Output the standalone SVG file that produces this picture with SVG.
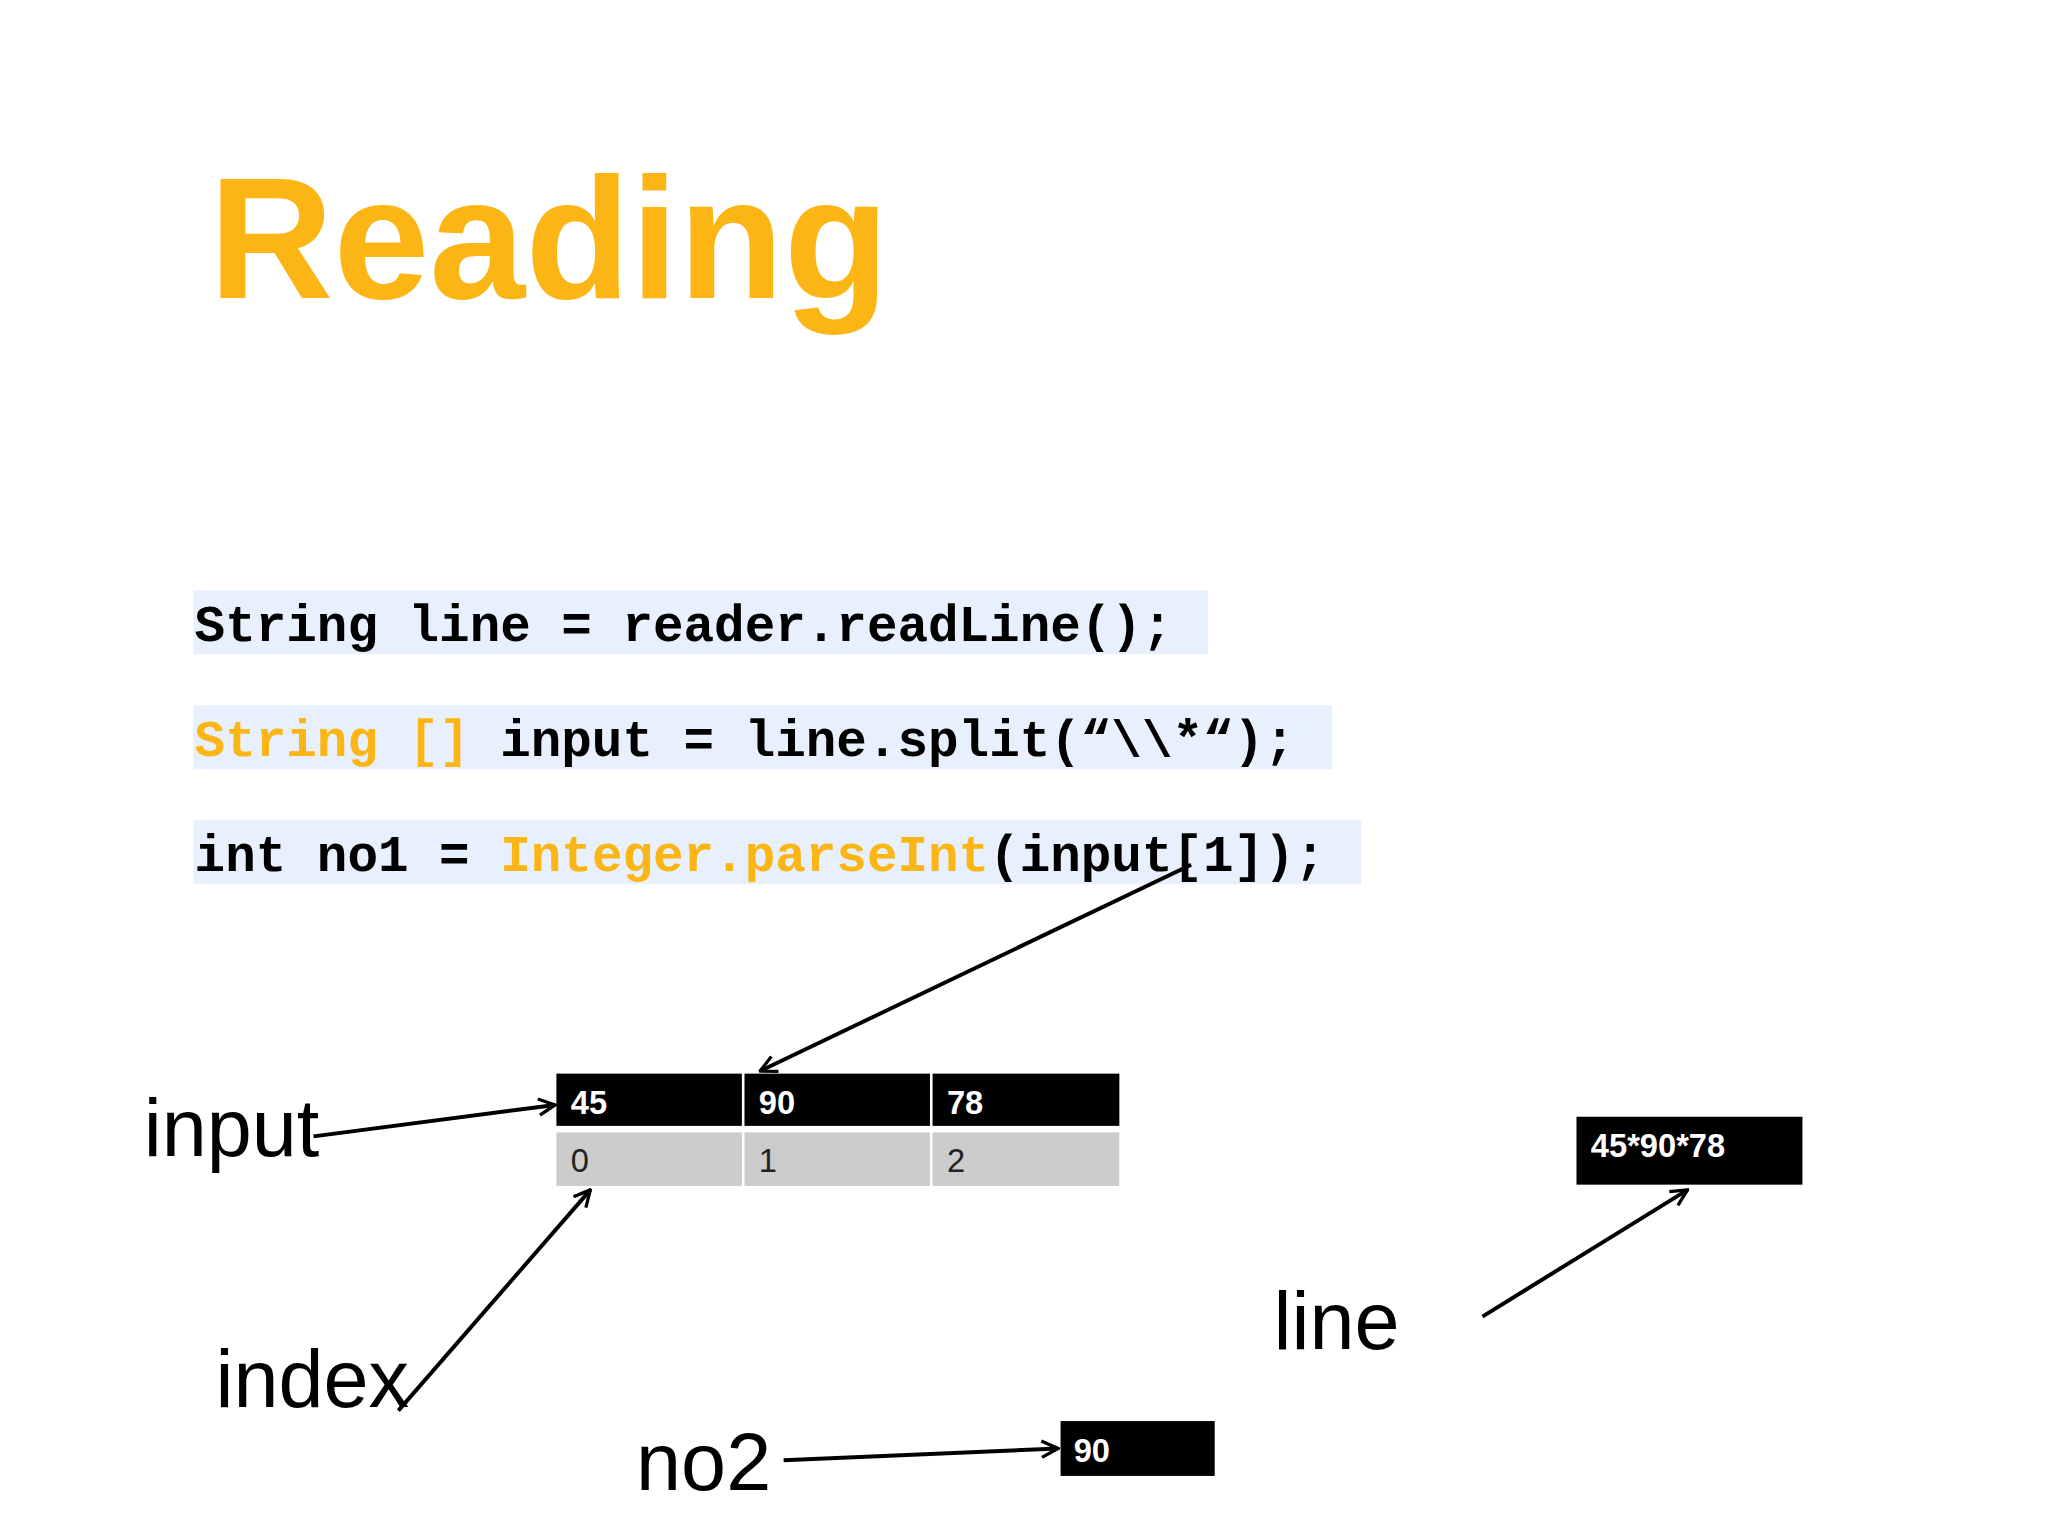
<svg xmlns="http://www.w3.org/2000/svg" width="2048" height="1536" viewBox="0 0 2048 1536">
<style>
.code{font-family:"Liberation Mono",monospace;font-weight:bold;font-size:39px;fill:#000}
.or{fill:#FBB515}
.lbl{font-family:"Liberation Sans",Arial,sans-serif;font-size:62px;fill:#000}
.cell{font-family:"Liberation Sans",Arial,sans-serif;font-weight:bold;font-size:25px;fill:#fff}
.idx{font-family:"Liberation Sans",Arial,sans-serif;font-size:25px;fill:#222}
.bg{fill:#E8F0FD}
.conn line{stroke:#000;stroke-width:3;marker-end:url(#ah)}
</style>
<defs>
<marker id="ah" viewBox="0 0 12 12" refX="11" refY="6" markerWidth="5" markerHeight="5" orient="auto" markerUnits="strokeWidth">
<path d="M1,1 L11,6 L1,11" fill="none" stroke="#000" stroke-width="2"/>
</marker>
</defs>
<rect width="2048" height="1536" fill="#fff"/>
<g transform="scale(1.30612)">
<g id="title"><text x="160" y="228" font-family="Liberation Sans,Arial,sans-serif" font-weight="bold" font-size="132" fill="#FBB515">Reading</text></g>
<g id="code1"><rect class="bg" x="148" y="452" width="777" height="49"/><text class="code" x="149" y="491" xml:space="preserve">String line = reader.readLine();</text></g>
<g id="code2"><rect class="bg" x="148" y="540" width="872" height="49"/><text class="code" x="149" y="579" xml:space="preserve"><tspan class="or">String []</tspan> input = line.split(“\\*“);</text></g>
<g id="code3"><rect class="bg" x="148" y="628" width="894" height="49"/><text class="code" x="149" y="667" xml:space="preserve">int no1 = <tspan class="or">Integer.parseInt</tspan>(input[1]);</text></g>
<g id="array">
<rect x="426" y="822" width="142" height="40" fill="#000"/><rect x="570" y="822" width="142" height="40" fill="#000"/><rect x="714" y="822" width="143" height="40" fill="#000"/>
<rect x="426" y="867" width="142" height="41" fill="#CCCCCC"/><rect x="570" y="867" width="142" height="41" fill="#CCCCCC"/><rect x="714" y="867" width="143" height="41" fill="#CCCCCC"/>
<text class="cell" x="437" y="853">45</text><text class="cell" x="581" y="853">90</text><text class="cell" x="725" y="853">78</text>
<text class="idx" x="437" y="897">0</text><text class="idx" x="581" y="897">1</text><text class="idx" x="725" y="897">2</text>
</g>
<g id="lineBox"><rect x="1207" y="855" width="173" height="52" fill="#000"/><text class="cell" x="1218" y="886">45*90*78</text></g>
<g id="no2Box"><rect x="812" y="1088" width="118" height="42" fill="#000"/><text class="cell" x="822" y="1119">90</text></g>
<g id="labels">
<text class="lbl" x="110" y="885">input</text>
<text class="lbl" x="165" y="1077">index</text>
<text class="lbl" x="975" y="1033">line</text>
<text class="lbl" x="487" y="1141">no2</text>
</g>
<g class="conn">
<line x1="912" y1="662" x2="582" y2="820"/>
<line x1="240" y1="870" x2="425" y2="846"/>
<line x1="305" y1="1080" x2="452" y2="911"/>
<line x1="1135" y1="1008" x2="1292" y2="911"/>
<line x1="600" y1="1118" x2="810" y2="1109"/>
</g>
</g>
</svg>
